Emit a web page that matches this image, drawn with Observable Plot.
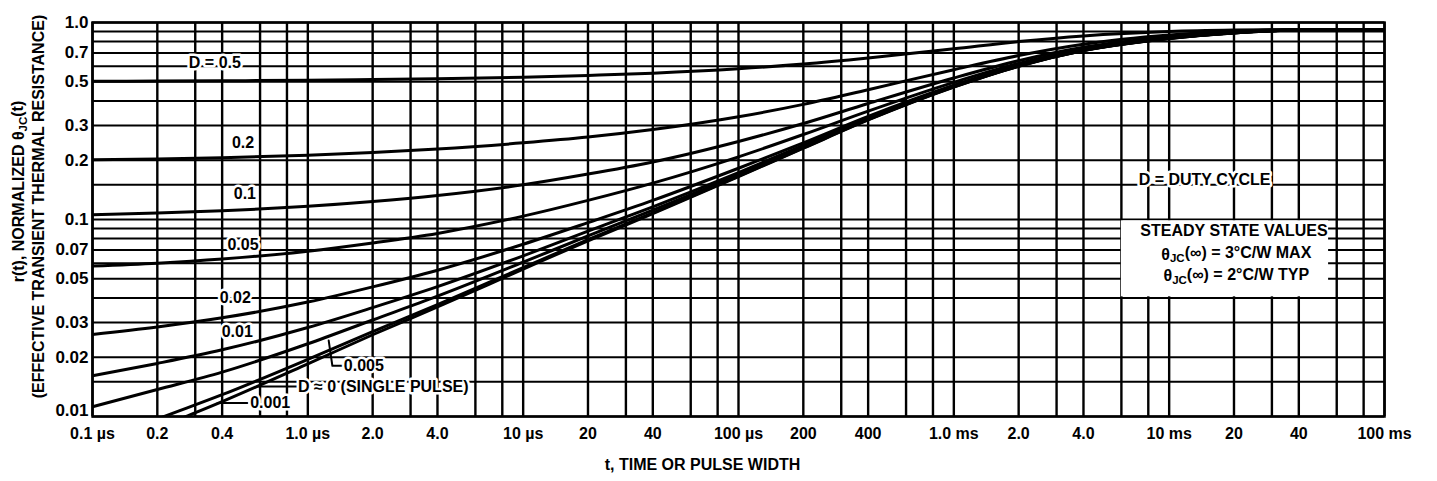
<!DOCTYPE html>
<html><head><meta charset="utf-8">
<script src="https://cdn.jsdelivr.net/npm/d3@7"></script>
<script src="https://cdn.jsdelivr.net/npm/@observablehq/plot@0.6"></script>
<style>
html,body{margin:0;padding:0;background:#fff;}
#chart svg{display:block;}
</style></head><body><div id="chart"></div>
<script>
// pulse width t in microseconds
const tValues = [0.1,0.2,0.4,1,2,4,10,20,40,100,200,400,1000,2000,4000,10000,20000,40000,100000];
const rSingle = [0.0062,0.0087,0.0119,0.0185,0.026,0.036,0.056,0.078,0.107,0.165,0.23,0.32,0.47,0.60,0.72,0.83,0.885,0.915,0.92];
const rD0001 = [0.0072,0.0097,0.0129,0.0195,0.027,0.037,0.057,0.079,0.108,0.166,0.231,0.321,0.471,0.60,0.72,0.83,0.885,0.915,0.92];
const rD0005 = [0.0112,0.0137,0.0168,0.0234,0.0309,0.0408,0.0607,0.0826,0.1115,0.169,0.234,0.323,0.473,0.602,0.721,0.831,0.886,0.915,0.92];
const rD001 = [0.0161,0.0186,0.0218,0.0283,0.0357,0.0456,0.0654,0.0872,0.116,0.173,0.238,0.327,0.475,0.604,0.723,0.832,0.886,0.915,0.92];
const rD002 = [0.0261,0.0285,0.0317,0.0381,0.0455,0.0553,0.0749,0.0964,0.125,0.182,0.245,0.334,0.481,0.608,0.726,0.833,0.887,0.915,0.92];
const rD005 = [0.058,0.060,0.063,0.069,0.076,0.085,0.104,0.125,0.153,0.208,0.27,0.355,0.497,0.62,0.734,0.839,0.891,0.917,0.92];
const rD01 = [0.1056,0.1078,0.1107,0.1167,0.1234,0.1324,0.150,0.170,0.196,0.249,0.307,0.388,0.523,0.64,0.748,0.847,0.897,0.92,0.92];
const rD02 = [0.201,0.203,0.206,0.212,0.219,0.228,0.245,0.262,0.286,0.332,0.384,0.456,0.576,0.68,0.776,0.864,0.905,0.92,0.92];
const rD05 = [0.503,0.504,0.506,0.509,0.513,0.518,0.528,0.539,0.553,0.582,0.615,0.66,0.735,0.80,0.855,0.90,0.915,0.92,0.92];

const seriesNames = ["0","0.001","0.005","0.01","0.02","0.05","0.1","0.2","0.5"];
const seriesValues = [rSingle,rD0001,rD0005,rD001,rD002,rD005,rD01,rD02,rD05];

const xTicks = [0.1,0.2,0.4,1,2,4,10,20,40,100,200,400,1000,2000,4000,10000,20000,40000,100000];
const xTickLabels = ["0.1 µs","0.2","0.4","1.0 µs","2.0","4.0","10 µs","20","40","100 µs","200","400","1.0 ms","2.0","4.0","10 ms","20","40","100 ms"];
const yTicks = [1,0.7,0.5,0.3,0.2,0.1,0.07,0.05,0.03,0.02,0.01];
const yTickLabels = ["1.0","0.7","0.5","0.3","0.2","0.1","0.07","0.05","0.03","0.02","0.01"];
const yTickShift = [0,0,0,0,0,0,0,0,0,0,-6];
const xGrid = [0.1,0.2,0.3,0.4,0.6,0.8,1,2,3,4,6,8,10,20,30,40,60,80,100,200,300,400,600,800,1000,2000,3000,4000,6000,8000,10000,20000,30000,40000,60000,80000,100000];
const yGrid = [0.01,0.015,0.02,0.03,0.04,0.05,0.06,0.07,0.08,0.09,0.1,0.15,0.2,0.3,0.4,0.5,0.6,0.7,0.8,0.9,1];

// curve labels: [text, t, r, anchor]
const curveLabels = [
  ["D = 0.5", 0.37, 0.625, "middle"],
  ["0.2", 0.50, 0.245, "middle"],
  ["0.1", 0.51, 0.135, "middle"],
  ["0.05", 0.50, 0.074, "middle"],
  ["0.02", 0.46, 0.040, "middle"],
  ["0.01", 0.47, 0.027, "middle"],
  ["0.005", 1.47, 0.0181, "start"],
  ["D ≈ 0 (SINGLE PULSE)", 0.90, 0.0142, "start"],
  ["0.001", 0.54, 0.0117, "start"],
  ["D = DUTY CYCLE", 14600, 0.158, "middle"]
];
// leader lines: [id, t, r]
const leaders = [
  ["l005", 1.25, 0.0243], ["l005", 1.30, 0.0181], ["l005", 1.46, 0.0181],
  ["lsp", 0.584, 0.0142], ["lsp", 0.888, 0.0142],
  ["l0001", 0.381, 0.0117], ["l0001", 0.524, 0.0117]
];
// steady state box (t range, r range) and its lines
const boxT = [6000, 55000];
const boxR = [0.0405, 0.0985];
const boxLines = ["STEADY STATE VALUES", "θJC(∞) = 3°C/W MAX", "θJC(∞) = 2°C/W TYP"];
const boxLineT = [20000, 20500, 20500];
const boxLineR = [0.088, 0.0665, 0.0515];

const curves = seriesNames.flatMap((D, k) => tValues.map((t, i) => ({D, t, r: seriesValues[k][i]})));
const xTickData = xTicks.map((t, i) => ({t, label: xTickLabels[i]}));
const yTickData = yTicks.map((r, i) => ({r, label: yTickLabels[i], shift: yTickShift[i]}));
const labelData = curveLabels.map(([text, t, r, anchor]) => ({text, t, r, anchor}));
const leaderData = leaders.map(([id, t, r]) => ({id, t, r}));
const boxData = boxLines.map((text, i) => ({text, t: boxLineT[i], r: boxLineR[i]}));

const FONT = "'Liberation Sans', Arial, sans-serif";

const chart = Plot.plot({
  width: 1437,
  height: 481,
  marginLeft: 92,
  marginRight: 53,
  marginTop: 22,
  marginBottom: 65,
  x: {type: "log", domain: [0.1, 100000], axis: null},
  y: {type: "log", domain: [0.01, 1], axis: null},
  style: {fontFamily: FONT, fontWeight: "bold", fontSize: "16px", color: "black", background: "white"},
  marks: [
    Plot.ruleX(xGrid, {stroke: "black", strokeWidth: 2.4}),
    Plot.ruleY(yGrid, {stroke: "black", strokeWidth: 2}),
    Plot.rect([0], {x1: () => boxT[0], x2: () => boxT[1], y1: () => boxR[0], y2: () => boxR[1], fill: "white"}),
    Plot.line(curves, {x: "t", y: "r", z: "D", stroke: "black", strokeWidth: 3, curve: "monotone-x", clip: true}),
    Plot.line(leaderData, {x: "t", y: "r", z: "id", stroke: "black", strokeWidth: 2}),
    Plot.frame({stroke: "black", strokeWidth: 2.5}),
    Plot.text(labelData.filter(d => d.anchor === "middle"), {x: "t", y: "r", text: "text", textAnchor: "middle", fill: "black", stroke: "white", strokeWidth: 5, paintOrder: "stroke"}),
    Plot.text(labelData.filter(d => d.anchor === "start"), {x: "t", y: "r", text: "text", textAnchor: "start", fill: "black", stroke: "white", strokeWidth: 5, paintOrder: "stroke"}),
    Plot.text(boxData, {x: "t", y: "r", text: "text", textAnchor: "middle", fill: "black"}),
    // x tick labels
    Plot.text(xTickData, {x: "t", frameAnchor: "bottom", text: "label", dy: 22, fontSize: 16}),
    // y tick labels
    Plot.text(yTickData.filter(d => d.shift === 0), {y: "r", frameAnchor: "left", text: "label", textAnchor: "end", dx: -4, fontSize: 17}),
    Plot.text(yTickData.filter(d => d.shift !== 0), {y: "r", frameAnchor: "left", text: "label", textAnchor: "end", dx: -4, dy: -6, fontSize: 17}),
    // axis titles
    Plot.text(["t, TIME OR PULSE WIDTH"], {frameAnchor: "bottom", text: d => d, textAnchor: "middle", dx: -36, dy: 53, fontSize: 16}),
    Plot.text(["r(t), NORMALIZED θJC(t)"], {frameAnchor: "left", text: d => d, textAnchor: "middle", rotate: -90, dx: -74, dy: -28, fontSize: 16}),
    Plot.text(["(EFFECTIVE TRANSIENT THERMAL RESISTANCE)"], {frameAnchor: "left", text: d => d, textAnchor: "middle", rotate: -90, dx: -54, dy: -13, fontSize: 16})
  ]
});

// typeset the "JC" of θJC as a subscript
d3.select(chart).selectAll("text").each(function() {
  const s = this.textContent;
  const k = s.indexOf("θJC");
  if (k < 0 || this.querySelector("tspan")) return;
  const el = d3.select(this);
  el.text(null);
  el.append("tspan").text(s.slice(0, k + 1));
  el.append("tspan").attr("dy", "0.25em").attr("font-size", "0.72em").text("JC");
  el.append("tspan").attr("dy", "-0.25em").text(s.slice(k + 3));
});

document.getElementById("chart").appendChild(chart);
</script>
</body></html>
